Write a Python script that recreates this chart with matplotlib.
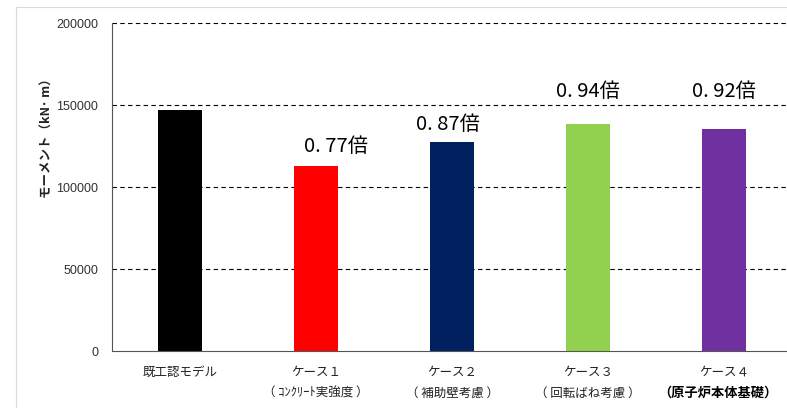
import matplotlib
matplotlib.use("Agg")
import matplotlib.pyplot as plt
import matplotlib.lines as mlines

plt.rcParams["font.family"] = ["Noto Sans CJK JP", "DejaVu Sans"]

# ---------------------------------------------------------------------------
# Data
# ---------------------------------------------------------------------------
cases = ["既工認モデル", "ケース１", "ケース２", "ケース３", "ケース４"]
notes = ["", "（ ｺﾝｸﾘｰﾄ実強度 ）", "（ 補助壁考慮 ）", "（ 回転ばね考慮 ）", "（原子炉本体基礎）"]
moments = [147000, 113000, 127500, 138500, 135500]
ratio_labels = ["", "0. 77倍", "0. 87倍", "0. 94倍", "0. 92倍"]
yticks = [0, 50000, 100000, 150000, 200000]

# ---------------------------------------------------------------------------
# Styles
# ---------------------------------------------------------------------------
colors = ["#000000", "#FF0000", "#002060", "#92D050", "#7030A0"]
ratio_dx = [0, 0.15, -0.03, 0, 0]                 # horizontal nudge (category units)
ratio_y = [0, 125000, 138400, 158500, 158500]     # text centre height
ratio_font = ["Liberation Sans Narrow", "Noto Sans CJK JP", "DejaVu Sans"]

fig = plt.figure(figsize=(7.87, 4.08), dpi=100)
ax = fig.add_axes([0.1423, 0.1397, 0.8641, 0.8039])

# faint chart-area frame
fig.add_artist(mlines.Line2D([0.0203, 1.0], [0.983, 0.983], color="#d9d9d9", lw=0.8))
fig.add_artist(mlines.Line2D([0.0203, 0.0203], [0.0, 0.983], color="#d9d9d9", lw=0.8))

ax.set_axisbelow(True)
for v in yticks[1:]:
    ax.axhline(v, color="black", lw=0.8, ls=(0, (4, 3)), zorder=0)

x = list(range(len(cases)))
ax.bar(x, moments, width=0.33, color=colors, zorder=2)

for i, lab in enumerate(ratio_labels):
    if lab:
        ax.text(i + ratio_dx[i], ratio_y[i], lab, ha="center", va="center",
                fontsize=14.5, color="black", family=ratio_font)

ax.set_xlim(-0.5, len(cases) - 0.5)
ax.set_ylim(0, 200000)
ax.set_yticks(yticks)
ax.set_yticklabels([str(v) for v in yticks], fontsize=9, color="#333333",
                   family=["Liberation Sans", "DejaVu Sans"])
ax.tick_params(axis="y", length=0, pad=10)
ax.set_xticks([])

for s in ("top", "right"):
    ax.spines[s].set_visible(False)
ax.spines["left"].set_color("#555555")
ax.spines["bottom"].set_color("#555555")
ax.spines["left"].set_linewidth(0.8)
ax.spines["bottom"].set_linewidth(0.8)

# category labels below the axis
for i, (c, n) in enumerate(zip(cases, notes)):
    xf = ax.transData.transform((i, 0))[0] / fig.dpi / fig.get_figwidth()
    fig.text(xf, 1 - 372 / 408, c, ha="center", va="center", fontsize=9,
             color="#222222")
    if n:
        if i == len(cases) - 1:
            fig.text(xf - 0.008, 1 - 393 / 408, n, ha="center", va="center",
                     fontsize=9.5, fontweight="bold", color="black")
        else:
            fig.text(xf, 1 - 393 / 408, n, ha="center", va="center",
                     fontsize=9, color="#222222")

fig.text(0.060, 1 - 135 / 408, "モーメント（kN･ m）", rotation=90,
         ha="center", va="center", fontsize=9, fontweight="bold", color="#222222")

fig.savefig("out.png", dpi=100)
